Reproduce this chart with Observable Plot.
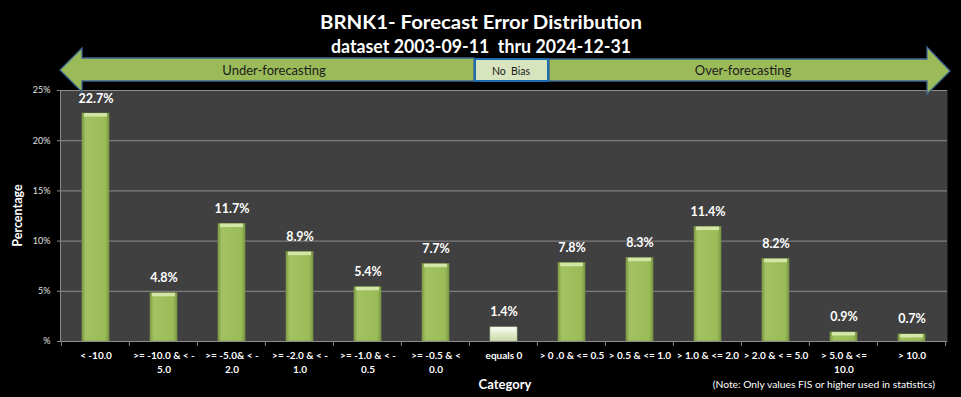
<!DOCTYPE html>
<html><head><meta charset="utf-8">
<script src="https://cdn.jsdelivr.net/npm/d3@7"></script>
<script src="https://cdn.jsdelivr.net/npm/@observablehq/plot@0.6"></script>
<style>
html,body{margin:0;padding:0;background:#000;}
#chart{width:961px;height:397px;overflow:hidden;}
</style>
</head><body><div id="chart"></div>
<script>
const categories = ["< -10.0", ">= -10.0 & < -\n5.0", ">= -5.0& < -\n2.0", ">= -2.0 & < -\n1.0", ">= -1.0 & < -\n0.5", ">= -0.5 & <\n0.0", "equals 0", "> 0 .0 & <= 0.5", "> 0.5 & <= 1.0", "> 1.0 & <= 2.0", "> 2.0 & < = 5.0", "> 5.0 & <=\n10.0", "> 10.0"];
const values = [22.7, 4.8, 11.7, 8.9, 5.4, 7.7, 1.4, 7.8, 8.3, 11.4, 8.2, 0.9, 0.7];
const yTicks = [0, 5, 10, 15, 20, 25];
const titleLines = ["BRNK1- Forecast Error Distribution", "dataset 2003-09-11  thru 2024-12-31"];

const data = categories.map((c, i) => ({cat: c, value: values[i], zero: c === "equals 0"}));
const font = "Lato, 'Open Sans', sans-serif";

const W = 961, H = 397, ML = 60, MR = 14, MT = 90, MB = 56;

const plot = Plot.plot({
  width: W, height: H,
  marginLeft: ML, marginRight: MR, marginTop: MT, marginBottom: MB,
  style: {background: "#000", color: "#fff", fontFamily: font},
  x: {domain: categories, paddingInner: 0.6, paddingOuter: 0.3, label: null},
  y: {domain: [0, 25], label: null},
  marks: [
    Plot.frame({fill: "#404040", stroke: null}),
    Plot.ruleY(yTicks, {stroke: "#8c8c8c", strokeWidth: 1}),
    Plot.barY(data, {x: "cat", y: "value", fill: d => d.zero ? "url(#gz)" : "url(#gg)", stroke: d => d.zero ? "#b5c79a" : "#7d9a45", strokeWidth: 0.6}),
    Plot.barY(data, {x: "cat", y1: d => d.value, y2: d => Math.max(0, d.value - 0.35), fill: d => d.zero ? "#f4f8ea" : "#d2e6a6", insetLeft: 2, insetRight: 2}),
    Plot.text(data, {x: "cat", y: "value", text: d => d.value.toFixed(1) + "%", dy: -15, fill: "#fff", fontWeight: "bold", fontSize: 12.5}),
    Plot.axisY({ticks: yTicks, tickFormat: d => d === 0 ? "%" : d + "%", tickSize: 3, tickPadding: 7, fill: "#e0e0e0", fontSize: 9, stroke: "#8c8c8c"}),
    Plot.axisX({tickSize: 0, tickPadding: 8, fontSize: 10, fontWeight: "bold", fill: "#fff", lineHeight: 1.38}),
  ]
});

document.getElementById("chart").appendChild(plot);
const svg = d3.select(plot);

// gradients
const defs = svg.insert("defs", ":first-child");
const g1 = defs.append("linearGradient").attr("id", "gg").attr("x1", 0).attr("x2", 1).attr("y1", 0).attr("y2", 0);
[["0%", "#7e9b46"], ["14%", "#a3c362"], ["50%", "#9fbf5d"], ["86%", "#9bbb59"], ["100%", "#7a9642"]].forEach(([o, c]) => g1.append("stop").attr("offset", o).attr("stop-color", c));
const g2 = defs.append("linearGradient").attr("id", "gz").attr("x1", 0).attr("x2", 0).attr("y1", 0).attr("y2", 1);
[["0%", "#fbfdf6"], ["40%", "#e4eecf"], ["100%", "#c9d9a8"]].forEach(([o, c]) => g2.append("stop").attr("offset", o).attr("stop-color", c));

// x axis line & boundary ticks
const xs = plot.scale("x");
const step = (W - ML - MR) / categories.length;
const y0 = H - MB;
svg.append("line").attr("x1", ML).attr("x2", W - MR).attr("y1", y0 + 0.5).attr("y2", y0 + 0.5).attr("stroke", "#8c8c8c");
for (let i = 0; i <= categories.length; i++) {
  const c = i < categories.length ? categories[i] : categories[i - 1];
  const center = xs.apply(c) + xs.bandwidth / 2;
  const bx = i < categories.length ? center - step / 2 : center + step / 2;
  svg.append("line").attr("x1", bx).attr("x2", bx).attr("y1", y0).attr("y2", y0 + 5).attr("stroke", "#8c8c8c");
}
svg.append("line").attr("x1", ML + 0.5).attr("x2", ML + 0.5).attr("y1", MT).attr("y2", y0).attr("stroke", "#8c8c8c");

// axis titles
svg.append("text").attr("transform", `translate(22,${(MT + y0) / 2}) rotate(-90)`).attr("text-anchor", "middle")
  .attr("fill", "#fff").attr("font-family", font).attr("font-weight", "bold").attr("font-size", 12.5).text("Percentage");
svg.append("text").attr("x", 505).attr("y", 389).attr("text-anchor", "middle")
  .attr("fill", "#fff").attr("font-family", font).attr("font-weight", "bold").attr("font-size", 13).text("Category");
svg.append("text").attr("x", 935).attr("y", 388).attr("text-anchor", "end")
  .attr("fill", "#fff").attr("font-family", font).attr("font-size", 10.3).text("(Note: Only values FIS or higher used in statistics)");

// title
const titleWidths = [322, 300];
titleLines.forEach((t, i) => svg.append("text").attr("x", 481).attr("y", 29 + i * 24).attr("text-anchor", "middle")
  .attr("fill", "#fff").attr("font-family", font).attr("font-weight", "bold").attr("font-size", 19.5)
  .attr("textLength", titleWidths[i]).attr("lengthAdjust", "spacingAndGlyphs").text(t));

// arrows
const arrowFill = "#9bbb59", arrowStroke = "#3f6593";
svg.append("path").attr("d", "M60,70 L82,48 L82,58 L474,58 L474,81 L82,81 L82,92 Z")
  .attr("fill", arrowFill).attr("stroke", arrowStroke).attr("stroke-width", 1.3);
svg.append("path").attr("d", "M950,71 L927,47 L927,59 L549,59 L549,81 L927,81 L927,94 Z")
  .attr("fill", arrowFill).attr("stroke", arrowStroke).attr("stroke-width", 1.3);
svg.append("rect").attr("x", 475).attr("y", 59).attr("width", 73).attr("height", 22)
  .attr("fill", "#d7e4bd").attr("stroke", "#1f6bb0").attr("stroke-width", 2);
[["Under-forecasting", 274, 13], ["No  Bias", 511, 10.5], ["Over-forecasting", 743, 13]].forEach(([t, x, fs]) =>
  svg.append("text").attr("x", x).attr("y", 75).attr("text-anchor", "middle").attr("fill", "#1a1a1a")
    .attr("font-family", font).attr("font-size", fs).attr("xml:space", "preserve").style("white-space", "pre").text(t));
</script>
</body></html>
